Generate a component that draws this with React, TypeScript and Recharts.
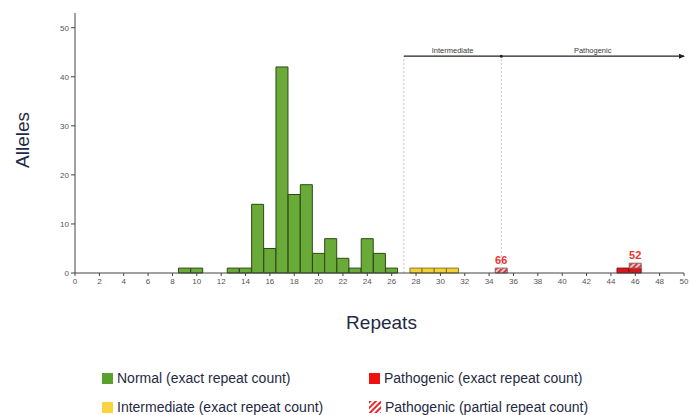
import { BarChart, Bar, XAxis, YAxis, ReferenceLine, ReferenceDot, LabelList, Label } from 'recharts'

// Allele counts per repeat length
const normalRepeats = [9, 10, 13, 14, 15, 16, 17, 18, 19, 20, 21, 22, 23, 24, 25, 26]
const normalAlleles = [1, 1, 1, 1, 14, 5, 42, 16, 18, 4, 7, 3, 1, 7, 4, 1]
const intermediateRepeats = [28, 29, 30, 31]
const intermediateAlleles = [1, 1, 1, 1]
const pathogenicRepeats = [45, 46]
const pathogenicAlleles = [1, 1]
const partialRepeats = [35, 46]
const partialAlleles = [1, 1]
const partialLabels = ['66', '52']

const xTicks = [0, 2, 4, 6, 8, 10, 12, 14, 16, 18, 20, 22, 24, 26, 28, 30, 32, 34, 36, 38, 40, 42, 44, 46, 48, 50]
const yTicks = [0, 10, 20, 30, 40, 50]

// zone boundaries (repeats) and the height of the zone arrow (alleles)
const intermediateStart = 27
const pathogenicStart = 35
const zoneEnd = 50
const zoneLevel = 44.2

const FONT = '"Liberation Sans", Arial, sans-serif'
const TEXT_DARK = '#1f2a44'

type Row = {
  repeat: number
  normal?: number
  intermediate?: number
  pathogenic?: number
  partial?: number
  partialLabel?: string
}

function buildRows(): Row[] {
  const rows = new Map<number, Row>()
  const get = (r: number) => {
    if (!rows.has(r)) rows.set(r, { repeat: r })
    return rows.get(r)!
  }
  normalRepeats.forEach((r, i) => (get(r).normal = normalAlleles[i]))
  intermediateRepeats.forEach((r, i) => (get(r).intermediate = intermediateAlleles[i]))
  pathogenicRepeats.forEach((r, i) => (get(r).pathogenic = pathogenicAlleles[i]))
  partialRepeats.forEach((r, i) => {
    get(r).partial = partialAlleles[i]
    get(r).partialLabel = partialLabels[i]
  })
  return [...rows.values()].sort((a, b) => a.repeat - b.repeat)
}

const data = buildRows()

const tickStyle = { fontSize: 8, fill: '#555', fontFamily: FONT }

function LegendSwatch({ kind }: { kind: string }) {
  if (kind === 'hatch') {
    return (
      <svg width={12} height={12} style={{ marginRight: 4 }}>
        <defs>
          <pattern id="legendHatch" width="4" height="4" patternUnits="userSpaceOnUse" patternTransform="rotate(45)">
            <rect width="4" height="4" fill="#fff" />
            <line x1="1" y1="0" x2="1" y2="4" stroke="#e8282c" strokeWidth="2" />
          </pattern>
        </defs>
        <rect width={12} height={12} fill="url(#legendHatch)" />
      </svg>
    )
  }
  return <span style={{ display: 'inline-block', width: 11, height: 11, background: kind, marginRight: 4 }} />
}

const legendItems = [
  { label: 'Normal (exact repeat count)', kind: '#5aa02c', left: 102, top: 370 },
  { label: 'Pathogenic (exact repeat count)', kind: '#ee1111', left: 369, top: 370 },
  { label: 'Intermediate (exact repeat count)', kind: '#fad440', left: 102, top: 399 },
  { label: 'Pathogenic (partial repeat count)', kind: 'hatch', left: 369, top: 399 },
]

export default function App() {
  return (
    <div style={{ position: 'absolute', left: 0, top: 0, width: 691, height: 415, background: '#fff', fontFamily: FONT }}>
      <BarChart
        width={691}
        height={340}
        data={data}
        margin={{ top: 13, right: 7, left: 0, bottom: 7 }}
        barCategoryGap={0}
        barGap={0}
      >
        <defs>
          <pattern id="partialHatch" width="4" height="4" patternUnits="userSpaceOnUse" patternTransform="rotate(45)">
            <rect width="4" height="4" fill="#f2c6c6" />
            <line x1="1" y1="0" x2="1" y2="4" stroke="#d8383c" strokeWidth="2" />
          </pattern>
          <marker id="arrowHead" markerWidth="6" markerHeight="6" refX="5" refY="3" orient="auto" markerUnits="userSpaceOnUse">
            <path d="M0,0.5 L6,3 L0,5.5 z" fill="#222" />
          </marker>
        </defs>

        <XAxis
          dataKey="repeat"
          type="number"
          domain={[0, zoneEnd]}
          ticks={xTicks}
          interval={0}
          tick={tickStyle}
          tickSize={3}
          tickMargin={2}
          axisLine={{ stroke: '#444' }}
          tickLine={{ stroke: '#444' }}
          height={60}
        >
          <Label
            content={({ viewBox }: any) => (
              <text
                x={viewBox.x + viewBox.width / 2 + 2}
                y={viewBox.y + 56}
                textAnchor="middle"
                fontSize={19}
                fill={TEXT_DARK}
                fontFamily={FONT}
              >
                Repeats
              </text>
            )}
          />
        </XAxis>

        <YAxis
          type="number"
          domain={[0, 53]}
          ticks={yTicks}
          interval={0}
          tick={tickStyle}
          tickSize={4}
          tickMargin={2}
          axisLine={{ stroke: '#444' }}
          tickLine={{ stroke: '#444' }}
          width={75}
        >
          <Label
            content={({ viewBox }: any) => {
              const cx = 22
              const cy = viewBox.y + viewBox.height / 2 - 3
              return (
                <text
                  x={cx}
                  y={cy}
                  transform={`rotate(-90 ${cx} ${cy})`}
                  textAnchor="middle"
                  dominantBaseline="central"
                  fontSize={19}
                  fill={TEXT_DARK}
                  fontFamily={FONT}
                >
                  Alleles
                </text>
              )
            }}
          />
        </YAxis>

        {/* zone boundaries */}
        <ReferenceLine
          segment={[{ x: intermediateStart, y: 0 }, { x: intermediateStart, y: zoneLevel }]}
          stroke="#c4c4c4"
          strokeDasharray="2 2"
        />
        <ReferenceLine
          segment={[{ x: pathogenicStart, y: 0 }, { x: pathogenicStart, y: zoneLevel }]}
          stroke="#c4c4c4"
          strokeDasharray="2 2"
        />
        <ReferenceLine
          segment={[{ x: intermediateStart, y: zoneLevel }, { x: pathogenicStart, y: zoneLevel }]}
          stroke="#222"
          strokeWidth={1.3}
          label={{ value: 'Intermediate', position: 'top', offset: 3, fontSize: 7.5, fill: '#3a3a3a', fontFamily: FONT }}
        />
        <ReferenceLine
          segment={[{ x: pathogenicStart, y: zoneLevel }, { x: zoneEnd, y: zoneLevel }]}
          stroke="#222"
          strokeWidth={1.3}
          shape={(p: any) => (
            <line x1={p.x1} y1={p.y1} x2={p.x2} y2={p.y2} stroke="#222" strokeWidth={1.3} markerEnd="url(#arrowHead)" />
          )}
          label={{ value: 'Pathogenic', position: 'top', offset: 3, fontSize: 7.5, fill: '#3a3a3a', fontFamily: FONT }}
        />
        <ReferenceDot x={pathogenicStart} y={zoneLevel} r={1.5} fill="#222" stroke="none" />

        <Bar dataKey="normal" stackId="a" fill="#6aaa38" stroke="#2c4a16" strokeWidth={1} isAnimationActive={false} />
        <Bar dataKey="intermediate" stackId="a" fill="#f2d03a" stroke="#8a7a1e" strokeWidth={1} isAnimationActive={false} />
        <Bar dataKey="pathogenic" stackId="a" fill="#d8161b" stroke="#8a1010" strokeWidth={1} isAnimationActive={false} />
        <Bar dataKey="partial" stackId="a" fill="url(#partialHatch)" stroke="#8a6060" strokeWidth={1} isAnimationActive={false}>
          <LabelList dataKey="partialLabel" position="top" offset={4} fill="#ea3430" fontSize={11} fontWeight="bold" fontFamily={FONT} />
        </Bar>
      </BarChart>

      {legendItems.map((item) => (
        <div
          key={item.label}
          style={{
            position: 'absolute',
            left: item.left,
            top: item.top,
            display: 'flex',
            alignItems: 'center',
            fontSize: 14,
            color: TEXT_DARK,
            whiteSpace: 'nowrap',
            lineHeight: '16px',
          }}
        >
          <LegendSwatch kind={item.kind} />
          {item.label}
        </div>
      ))}
    </div>
  )
}
